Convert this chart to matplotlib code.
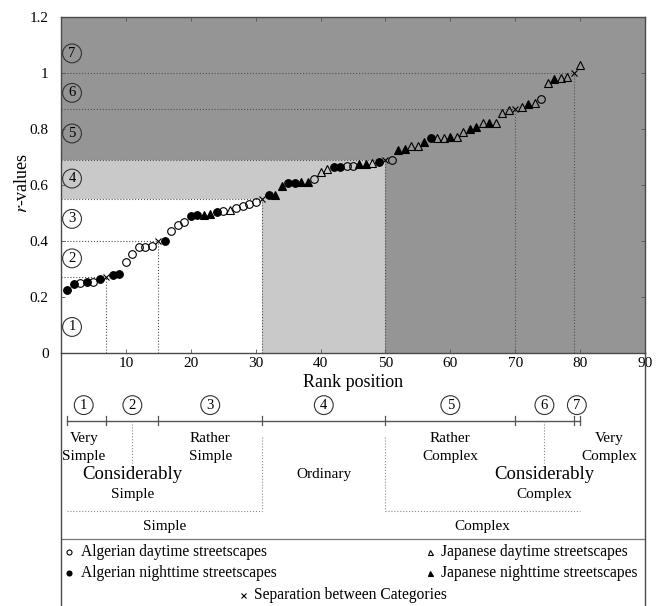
import matplotlib
matplotlib.use('Agg')
import matplotlib.pyplot as plt
import numpy as np

plt.rcParams['font.family'] = ['Liberation Serif', 'Noto Sans CJK JP', 'DejaVu Sans']
plt.rcParams['mathtext.fontset'] = 'stix'

# Rank of each streetscape and its r-value, with the group it belongs to
# AD/AN = Algerian day/night, JD/JN = Japanese day/night, S = category separation
ranks = np.arange(1, 81)
groups = ['AN', 'AN', 'AD', 'AN', 'AD', 'AN', 'S', 'AN', 'AN', 'AD',
          'AD', 'AD', 'AD', 'AD', 'S', 'AN', 'AD', 'AD', 'AD', 'AN',
          'AN', 'JN', 'JN', 'AN', 'AD', 'JD', 'AD', 'AD', 'AD', 'AD',
          'S', 'AN', 'JN', 'JN', 'AN', 'AN', 'JN', 'JN', 'AD', 'JD',
          'JD', 'AN', 'AN', 'AD', 'AD', 'JN', 'JN', 'JD', 'AN', 'S',
          'AD', 'JN', 'JN', 'JD', 'JD', 'JN', 'AN', 'JD', 'JD', 'JN',
          'JD', 'JD', 'JN', 'JN', 'JD', 'JN', 'JD', 'JD', 'JD', 'S',
          'JD', 'JN', 'JD', 'AD', 'JD', 'JN', 'JD', 'JD', 'S', 'JD']
r_values = [0.224, 0.248, 0.249, 0.254, 0.252, 0.264, 0.27, 0.280, 0.281, 0.325,
            0.355, 0.378, 0.380, 0.383, 0.40, 0.400, 0.436, 0.458, 0.468, 0.488,
            0.492, 0.492, 0.495, 0.502, 0.506, 0.512, 0.518, 0.524, 0.531, 0.538,
            0.55, 0.564, 0.566, 0.598, 0.606, 0.608, 0.611, 0.612, 0.621, 0.646,
            0.656, 0.665, 0.666, 0.668, 0.669, 0.675, 0.676, 0.677, 0.683, 0.69,
            0.691, 0.726, 0.727, 0.738, 0.739, 0.754, 0.767, 0.768, 0.769, 0.772,
            0.773, 0.790, 0.801, 0.808, 0.820, 0.822, 0.822, 0.857, 0.867, 0.87,
            0.879, 0.888, 0.894, 0.908, 0.965, 0.977, 0.983, 0.987, 1.00, 1.028]

# category boundaries (rank of separator, r-value threshold)
sep_ranks = [7, 15, 31, 50, 70, 79]
sep_values = [0.27, 0.40, 0.55, 0.69, 0.87, 1.00]
last_rank = 80

legend_labels = {
    'AD': 'Algerian daytime streetscapes',
    'AN': 'Algerian nighttime streetscapes',
    'JD': 'Japanese daytime streetscapes',
    'JN': 'Japanese nighttime streetscapes',
    'S': 'Separation between Categories',
}

DARK = '#959595'
LIGHT = '#c9c9c9'
LINE = '#4a4a4a'

styles = {
    'AD': dict(marker='o', mfc='none', mec='black', mew=0.8),
    'AN': dict(marker='o', mfc='black', mec='black', mew=0.8),
    'JD': dict(marker='^', mfc='none', mec='black', mew=0.8),
    'JN': dict(marker='^', mfc='black', mec='black', mew=0.8),
    'S': dict(marker='x', mfc='black', mec='black', mew=0.8),
}

fig = plt.figure(figsize=(6.56, 6.06), dpi=100)
ax = fig.add_axes([61 / 656, 1 - 353 / 606, 584 / 656, 336 / 606])
bx = fig.add_axes([61 / 656, 0, 584 / 656, 253 / 606])

# ---- main scatter panel ----
ax.set_xlim(0, 90)
ax.set_ylim(0, 1.2)
ax.set_facecolor(DARK)
ax.fill_between([0, sep_ranks[3]], 0, sep_values[3], color=LIGHT, lw=0, zorder=0)
ax.fill_between([0, sep_ranks[2]], 0, sep_values[2], color='white', lw=0, zorder=0)

for b, v in zip(sep_ranks, sep_values):
    ax.plot([0, b], [v, v], ls=':', color='#505050', lw=0.8, zorder=1)
    ax.plot([b, b], [0, v], ls=':', color='#505050', lw=0.8, zorder=1)

ranks_arr = np.array(ranks)
vals_arr = np.array(r_values)
grp_arr = np.array(groups)
for g, st in styles.items():
    m = grp_arr == g
    ms = 5 if g == 'S' else 5.5
    ax.plot(ranks_arr[m], vals_arr[m], ls='none', ms=ms, zorder=3, **st)

# circled category numbers on the left
num_y = [0.093, 0.338, 0.479, 0.623, 0.784, 0.929, 1.07]
for i, y in enumerate(num_y):
    ax.text(1.7, y, str(i + 1), ha='center', va='center', fontsize=10.5, zorder=4,
            bbox=dict(boxstyle='circle,pad=0.2', fc='none', ec='#333333', lw=0.8))

ax.set_xticks(np.arange(0, 91, 10))
ax.set_xticklabels([''] + [str(t) for t in range(10, 91, 10)])
ax.set_yticks(np.arange(0, 1.21, 0.2))
ax.set_yticklabels(['0', '0.2', '0.4', '0.6', '0.8', '1', '1.2'])
ax.tick_params(axis='x', direction='in', length=3, width=0.6, labelsize=11,
               top=True, pad=3, color='#555555')
ax.tick_params(axis='y', direction='in', length=3, width=0.6, labelsize=11,
               right=True, pad=9, color='#555555')
for sp in ax.spines.values():
    sp.set_color(LINE)
    sp.set_linewidth(1.0)
ax.set_xlabel('Rank position', fontsize=13)
ax.xaxis.set_label_coords(0.5, -0.062)
fig.text(22.7 / 656, 1 - 183 / 606, '$r$-values', rotation=90, ha='center',
         va='center', fontsize=13)

# ---- category scale panel ----
bx.set_xlim(0, 90)
bx.set_ylim(0, 1)
bx.set_xticks([])
bx.set_yticks([])
bx.patch.set_alpha(0)
bx.spines['top'].set_visible(False)
bx.spines['bottom'].set_visible(False)
for s in ('left', 'right'):
    bx.spines[s].set_color(LINE)
    bx.spines[s].set_linewidth(1.0)

edges = [1] + sep_ranks + [last_rank]
bar_y = 0.732
bx.plot([edges[0], edges[-1]], [bar_y, bar_y], color='#555555', lw=1.0)
for e in edges:
    bx.plot([e, e], [bar_y - 0.018, bar_y + 0.02], color='#555555', lw=0.9)

bounds = [0] + sep_ranks
for i in range(7):
    lo = bounds[i]
    hi = bounds[i + 1] if i < 6 else last_rank
    bx.text((lo + hi) / 2, 0.794, str(i + 1), ha='center', va='center', fontsize=10.5,
            bbox=dict(boxstyle='circle,pad=0.2', fc='none', ec='#333333', lw=0.8))

dot = dict(ls=':', color='#8a8a8a', lw=0.8)
consid_simple = (sep_ranks[0] + sep_ranks[1]) / 2
consid_complex = (sep_ranks[4] + sep_ranks[5]) / 2
bx.plot([consid_simple, consid_simple], [bar_y, 0.566], **dot)
bx.plot([consid_complex, consid_complex], [bar_y, 0.566], **dot)
bx.plot([sep_ranks[2], sep_ranks[2]], [0.669, 0.375], **dot)
bx.plot([sep_ranks[3], sep_ranks[3]], [0.669, 0.375], **dot)
bx.plot([edges[0], sep_ranks[2]], [0.375, 0.375], **dot)
bx.plot([sep_ranks[3], last_rank], [0.375, 0.375], **dot)

fs = 11
bx.text(sep_ranks[0] / 2, 0.664, 'Very', ha='center', va='center', fontsize=fs)
bx.text(sep_ranks[0] / 2, 0.589, 'Simple', ha='center', va='center', fontsize=fs)
bx.text((sep_ranks[1] + sep_ranks[2]) / 2, 0.664, 'Rather', ha='center', va='center', fontsize=fs)
bx.text((sep_ranks[1] + sep_ranks[2]) / 2, 0.589, 'Simple', ha='center', va='center', fontsize=fs)
bx.text(consid_simple, 0.518, 'Considerably', ha='center', va='center', fontsize=13.5)
bx.text(consid_simple, 0.439, 'Simple', ha='center', va='center', fontsize=fs)
bx.text((sep_ranks[2] + sep_ranks[3]) / 2, 0.518, 'Ordinary', ha='center', va='center', fontsize=fs)
bx.text((sep_ranks[3] + sep_ranks[4]) / 2, 0.664, 'Rather', ha='center', va='center', fontsize=fs)
bx.text((sep_ranks[3] + sep_ranks[4]) / 2, 0.589, 'Complex', ha='center', va='center', fontsize=fs)
bx.text(consid_complex, 0.518, 'Considerably', ha='center', va='center', fontsize=13.5)
bx.text(consid_complex, 0.439, 'Complex', ha='center', va='center', fontsize=fs)
bx.text((sep_ranks[5] + 90) / 2, 0.664, 'Very', ha='center', va='center', fontsize=fs)
bx.text((sep_ranks[5] + 90) / 2, 0.589, 'Complex', ha='center', va='center', fontsize=fs)
bx.text((edges[0] + sep_ranks[2]) / 2, 0.316, 'Simple', ha='center', va='center', fontsize=fs)
bx.text((sep_ranks[3] + last_rank) / 2, 0.316, 'Complex', ha='center', va='center', fontsize=fs)

# separator line above the legend
bx.plot([0, 90], [0.265, 0.265], color='#777777', lw=0.9)

# legend rows: (group, marker x, text x, y)
legend_rows = [('AD', 1.24, 3.15, 0.2146), ('AN', 1.24, 3.15, 0.1316),
               ('JD', 56.9, 58.6, 0.2146), ('JN', 56.9, 58.6, 0.1316),
               ('S', 28.1, 29.7, 0.0435)]
for g, mx, tx, y in legend_rows:
    bx.plot([mx], [y], ls='none', ms=3.6, clip_on=False, **styles[g])
    bx.text(tx, y, legend_labels[g], ha='left', va='center', fontsize=11.2)

fig.savefig('out.png', dpi=100)
